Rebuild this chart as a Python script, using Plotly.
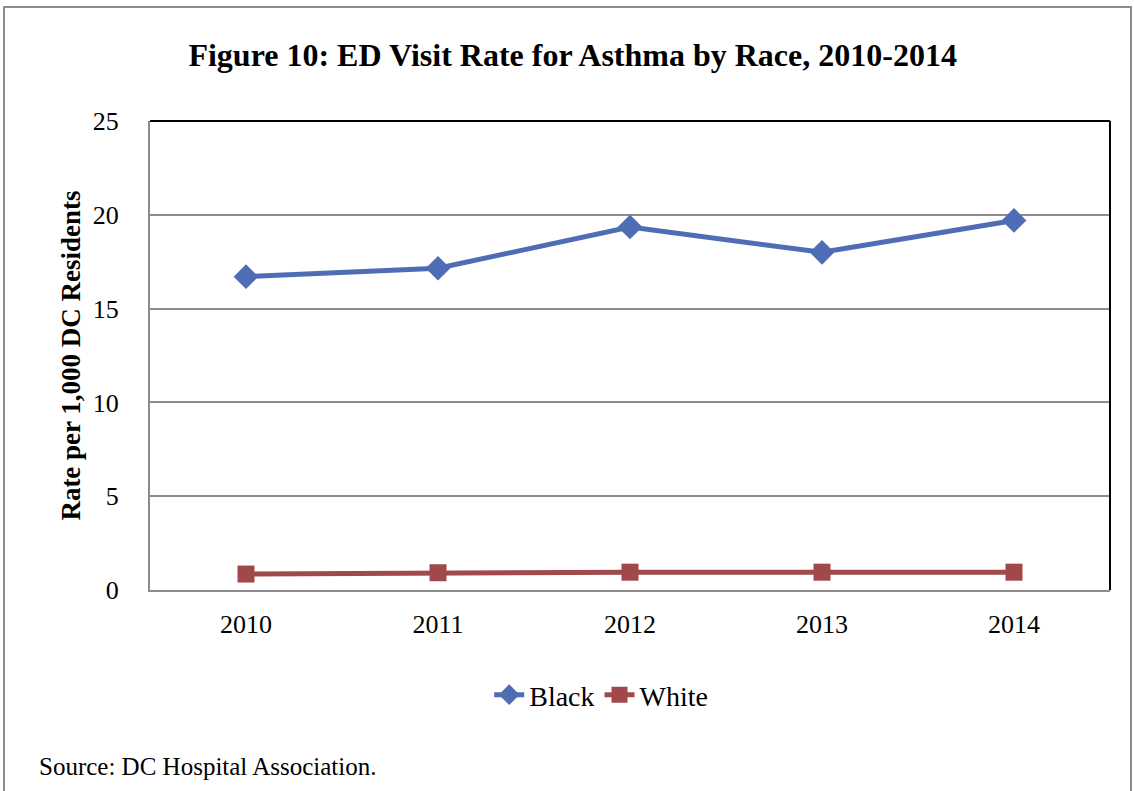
import plotly.graph_objects as go

years = ["2010", "2011", "2012", "2013", "2014"]
black = [16.7, 17.15, 19.35, 18.0, 19.7]
white = [0.85, 0.92, 0.95, 0.95, 0.95]
yticks = [0, 5, 10, 15, 20, 25]

serif = "Palatino Linotype, Book Antiqua, Palatino, Liberation Serif, DejaVu Serif, serif"

fig = go.Figure()
fig.add_trace(go.Scatter(x=years, y=black, name="Black", mode="lines+markers",
                         line=dict(color="#4E6DB4", width=5),
                         marker=dict(symbol="diamond", size=19, color="#4E6DB4")))
fig.add_trace(go.Scatter(x=years, y=white, name="White", mode="lines+markers",
                         line=dict(color="#A0484A", width=5),
                         marker=dict(symbol="square", size=17, color="#A0484A")))

fig.update_layout(
    width=1134, height=791,
    margin=dict(l=150, r=24, t=121, b=201),
    paper_bgcolor="white", plot_bgcolor="white",
    font=dict(family=serif, color="black"),
    title=dict(text="<b>Figure 10: ED Visit Rate for Asthma by Race, 2010-2014</b>",
               x=0.505, xanchor="center", y=1 - 55/791, yanchor="middle",
               font=dict(size=32, family=serif)),
    xaxis=dict(type="category", range=[-0.5, 4.5], showgrid=False,
               showline=True, linecolor="#8c8c8c", linewidth=2,
               tickfont=dict(size=26), ticks="", ticklabelstandoff=10),
    yaxis=dict(range=[0, 25], tickvals=yticks, showgrid=True, gridcolor="#8c8c8c",
               gridwidth=2, showline=True, linecolor="#8c8c8c", linewidth=2,
               zeroline=False, tickfont=dict(size=26), ticks="", ticklabelstandoff=24,
               title=dict(text="<b>Rate per 1,000 DC Residents</b>", font=dict(size=27),
                          standoff=4)),
    legend=dict(orientation="h", x=0.47, xanchor="center", y=-(695-590)/469, yanchor="middle",
                font=dict(size=28), tracegroupgap=0),
    showlegend=True,
)

# plot-area top/right border (black)
fig.add_shape(type="line", xref="paper", yref="paper", x0=0, x1=1, y0=1, y1=1,
              line=dict(color="black", width=2))
fig.add_shape(type="line", xref="paper", yref="paper", x0=1, x1=1, y0=0, y1=1,
              line=dict(color="black", width=2))
# outer frame
fig.add_shape(type="rect", xref="paper", yref="paper",
              x0=-146/960, x1=(1131-150)/960, y0=-(800-590)/469, y1=(590-7)/469,
              line=dict(color="#8c8c8c", width=2), layer="below")

fig.add_annotation(text="Source: DC Hospital Association.", xref="paper", yref="paper",
                   x=-(150-37)/960, xanchor="left", y=-(766-590)/469, yanchor="middle",
                   showarrow=False, font=dict(size=25, family=serif))

fig.write_html("out.html")
